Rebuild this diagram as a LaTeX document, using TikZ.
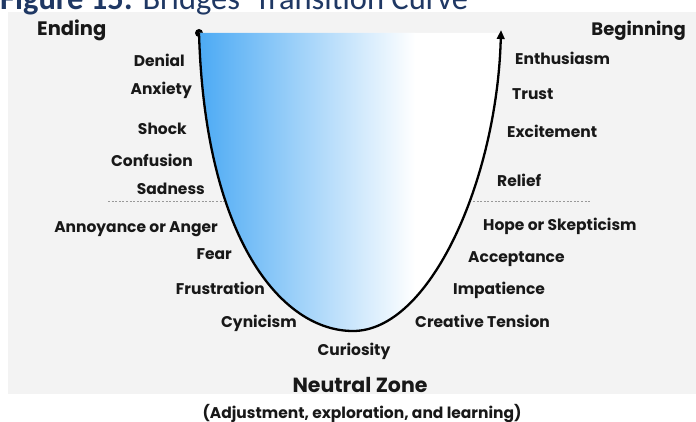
\documentclass[tikz,border=0pt]{standalone}
\usepackage{fontspec}
\newfontfamily\labfont{Poppins}
\newfontfamily\titlefont{Carlito}
\usetikzlibrary{arrows.meta}
\definecolor{navy}{RGB}{31,56,100}
\definecolor{sky}{RGB}{76,170,244}
\definecolor{panel}{RGB}{243,243,243}
\definecolor{ink}{RGB}{24,24,24}
\begin{document}
\begin{tikzpicture}[x=1pt,y=-1pt,
  lab/.style={font=\labfont\bfseries\fontsize{15.5}{18}\selectfont, inner sep=0pt, text=ink},
  lbl/.style={lab, anchor=base east},
  rbl/.style={lab, anchor=base west},
  phase/.style={font=\labfont\bfseries\fontsize{18}{21}\selectfont, inner sep=0pt, text=ink},
  zone/.style={font=\labfont\bfseries\fontsize{20.5}{24}\selectfont, inner sep=0pt, text=ink, anchor=base},
  divider/.style={draw=gray!80, line width=0.8pt, dash pattern=on 2pt off 1.6pt},
  curve/.style={draw=black, line width=2.3pt}]
\clip (0,0) rectangle (696,422);
% page and panel
\fill[white] (0,0) rectangle (696,422);
\fill[panel] (8,12) rectangle (696,394);
% title
\node[anchor=base west, inner sep=0pt, text=navy, font=\titlefont\fontsize{32.5}{36}\selectfont] (title) at (0,10)
  {\textbf{Figure 15:} Bridges' Transition Curve};
% endpoints of the curve
\node[circle, fill=black, inner sep=0pt, minimum size=8pt] (start) at (199,33) {};
\coordinate (bottom) at (353,331);
\coordinate (finish) at (501,30);
% shaded area under the top edge
\fill[white] (start.center) .. controls (205,240) and (282,331) .. (bottom)
  .. controls (430,331) and (497,180) .. (501,33) -- cycle;
\begin{scope}
  \clip (start.center) .. controls (205,240) and (282,331) .. (bottom)
    .. controls (430,331) and (497,180) .. (501,33) -- cycle;
  \shade[left color=sky, right color=white] (199,30) rectangle (415,335);
\end{scope}
% the transition curve
\draw[curve, -{Triangle[length=9pt,width=7.5pt]}] (start.center) .. controls (205,240) and (282,331) .. (bottom)
  .. controls (430,331) and (497,180) .. (finish);
% dividers
\coordinate (dl1) at (108,201);
\coordinate (dl2) at (224,201);
\coordinate (dr1) at (473,201);
\coordinate (dr2) at (590,201);
\draw[divider] (dl1) -- (dl2);
\draw[divider] (dr1) -- (dr2);
% phase headings
\node[phase, anchor=base west, font=\labfont\bfseries\fontsize{19.5}{22}\selectfont] (ending) at (37,36) {Ending};
\node[phase, anchor=base east] (beginning) at (686,36) {Beginning};
% ending side
\node[lbl] (denial) at (185,67) {Denial};
\node[lbl] (anxiety) at (192,95) {Anxiety};
\node[lbl] (shock) at (187,135) {Shock};
\node[lbl] (confusion) at (193,167) {Confusion};
\node[lbl] (sadness) at (205,195) {Sadness};
\node[lbl] (anger) at (218,233) {Annoyance or Anger};
\node[lbl] (fear) at (232,259) {Fear};
\node[lbl] (frustration) at (265,294) {Frustration};
\node[lbl] (cynicism) at (297,327) {Cynicism};
% beginning side
\node[rbl] (enthusiasm) at (515,65) {Enthusiasm};
\node[rbl] (trust) at (512,100) {Trust};
\node[rbl] (excitement) at (507,138) {Excitement};
\node[rbl] (relief) at (497,187) {Relief};
\node[rbl] (hope) at (483,230) {Hope or Skepticism};
\node[rbl] (acceptance) at (468,262) {Acceptance};
\node[rbl] (impatience) at (453,294) {Impatience};
\node[rbl] (tension) at (415,327) {Creative Tension};
% neutral zone
\node[lab, anchor=base] (curiosity) at (354,355) {Curiosity};
\node[zone] (neutral) at (360,392) {Neutral Zone};
\node[lab, anchor=base] (adjust) at (362,418) {(Adjustment, exploration, and learning)};
\end{tikzpicture}
\end{document}
